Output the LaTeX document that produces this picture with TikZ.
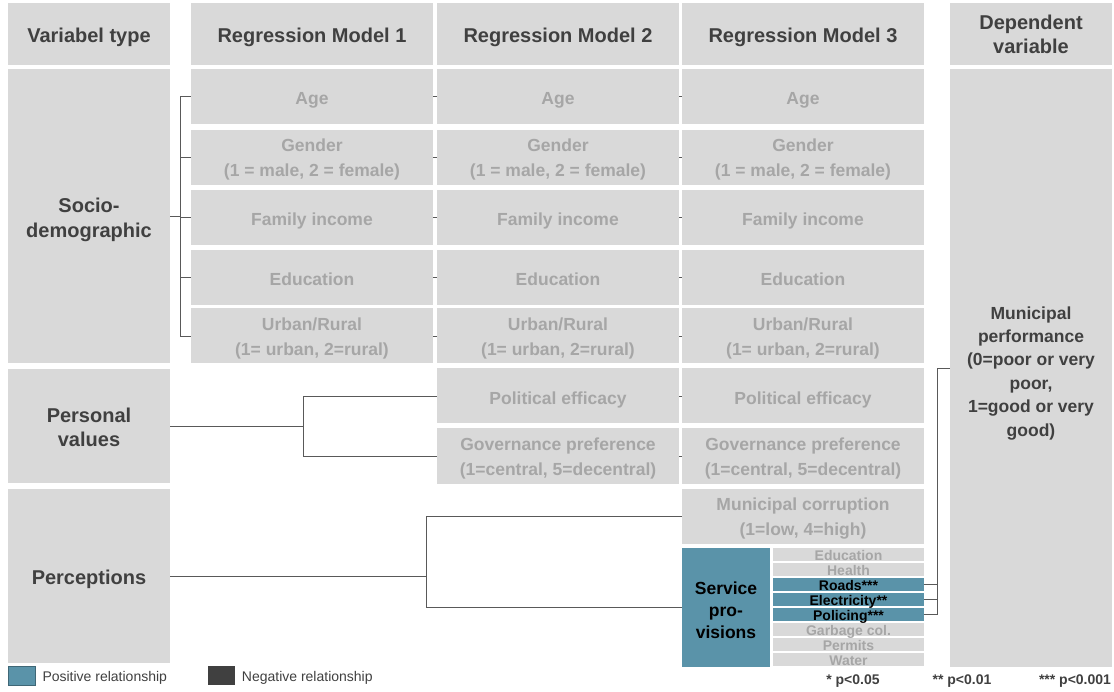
\documentclass[tikz,border=0pt]{standalone}
\usepackage{fontspec}
\setmainfont{Liberation Sans}
\usetikzlibrary{positioning}
\definecolor{boxgray}{HTML}{D9D9D9}
\definecolor{itemgray}{HTML}{A6A6A6}
\definecolor{headgray}{HTML}{404040}
\definecolor{linegray}{HTML}{595959}
\definecolor{servteal}{HTML}{5A93A9}
\begin{document}
\begin{tikzpicture}[x=1pt, y=-1pt,
    box/.style={fill=boxgray, inner sep=0pt, align=center, text depth=0pt},
    head/.style={box, minimum height=62pt, text height=16.4pt, text=headgray, font=\fontsize{20}{24}\selectfont\bfseries},
    vtype/.style={box, minimum width=162pt, text=headgray, font=\fontsize{20}{24.5}\selectfont\bfseries},
    cell/.style={box, minimum width=242pt, minimum height=55pt, text height=16.5pt, text=itemgray, font=\fontsize{17.5}{25}\selectfont\bfseries},
    twoline/.style={text height=39pt},
    sub/.style={box, minimum width=151pt, minimum height=13pt, text height=12.5pt, text depth=0.5pt, text=itemgray, font=\fontsize{14}{14}\selectfont\bfseries},
    hit/.style={fill=servteal, text=black},
    conn/.style={draw=linegray, line width=0.9pt},
    legbox/.style={minimum width=27pt, minimum height=19pt, inner sep=0pt},
    legtxt/.style={inner sep=0pt, text=headgray, font=\fontsize{14}{14}\selectfont},
    pval/.style={inner sep=0pt, text=headgray, font=\fontsize{14}{14}\selectfont\bfseries}]
    \useasboundingbox (0,0) rectangle (1114,692);
    \node[head, minimum width=162pt] (vtypehead) at (89,34) {Variabel type};
    \node[head, minimum width=242pt] (m1) at (312,34) {Regression Model 1};
    \node[head, minimum width=242pt] (m2) at (558,34) {Regression Model 2};
    \node[head, minimum width=242pt] (m3) at (803,34) {Regression Model 3};
    \node[head, minimum width=162pt, text height=39pt] (dephead) at (1031,34) {Dependent\\variable};
    \node[vtype, minimum height=294pt, text height=43pt] (socio) at (89,216) {Socio-\\demographic};
    \node[vtype, minimum height=114pt, text height=41pt] (personal) at (89,426) {Personal\\values};
    \node[vtype, minimum height=174pt, text height=16.4pt] (percep) at (89,576) {Perceptions};
    \foreach \m/\x in {1/312, 2/558, 3/803} {
        \node[cell] (age\m) at (\x,96.5) {Age};
        \node[cell, twoline] (gender\m) at (\x,157.5) {Gender\\(1 = male, 2 = female)};
        \node[cell] (income\m) at (\x,217.5) {Family income};
        \node[cell] (educ\m) at (\x,277.5) {Education};
        \node[cell, twoline] (urban\m) at (\x,336) {Urban/Rural\\(1= urban, 2=rural)};
    }
    \foreach \m/\x in {2/558, 3/803} {
        \node[cell] (polit\m) at (\x,396) {Political efficacy};
        \node[cell, twoline] (gov\m) at (\x,456) {Governance preference\\(1=central, 5=decentral)};
    }
    \node[cell, twoline] (corrupt3) at (803,516) {Municipal corruption\\(1=low, 4=high)};
    \node[box, hit, minimum width=88pt, minimum height=119pt, text height=61pt, font=\fontsize{17.5}{22}\selectfont\bfseries] (service) at (726,607.5) {Service\\pro-\\visions};
    \node[sub] (sEdu) at (848.5,554.5) {Education};
    \node[sub] (sHealth) at (848.5,569.5) {Health};
    \node[sub, hit] (sRoads) at (848.5,584.5) {Roads***};
    \node[sub, hit] (sElec) at (848.5,599.5) {Electricity**};
    \node[sub, hit] (sPolice) at (848.5,614.5) {Policing***};
    \node[sub] (sGarbage) at (848.5,629.5) {Garbage col.};
    \node[sub] (sPermits) at (848.5,644.5) {Permits};
    \node[sub] (sWater) at (848.5,659.5) {Water};
    \node[box, minimum width=162pt, minimum height=598pt, text height=136pt, text=headgray, font=\fontsize{17.5}{23.4}\selectfont\bfseries] (dep) at (1031,368) {Municipal\\performance\\(0=poor or very\\poor,\\1=good or very\\good)};
    \coordinate (sb) at (180,216);
    \foreach \r in {age, gender, income, educ, urban} {
        \draw[conn] (\r1.west) -| (sb);
        \draw[conn] (\r1.east) -- (\r2.west);
        \draw[conn] (\r2.east) -- (\r3.west);
    }
    \draw[conn] (socio.east) -- (sb);
    \coordinate (pb) at (303,426);
    \draw[conn] (polit2.west) -| (pb);
    \draw[conn] (gov2.west) -| (pb);
    \draw[conn] (personal.east) -- (pb);
    \draw[conn] (polit2.east) -- (polit3.west);
    \draw[conn] (gov2.east) -- (gov3.west);
    \coordinate (qb) at (426,576);
    \draw[conn] (corrupt3.west) -| (qb);
    \draw[conn] (service.west) -| (qb);
    \draw[conn] (percep.east) -- (qb);
    \coordinate (db) at (937,368);
    \draw[conn] (sRoads.east) -| (db) -- (db -| dep.west);
    \draw[conn] (sElec.east) -| (db);
    \draw[conn] (sPolice.east) -| (db);
    \node[legbox, fill=servteal, draw=servteal!70!black, line width=0.6pt] (legPos) at (21.5,675.5) {};
    \node[legtxt, right=7pt of legPos, yshift=-2pt] (legPosTxt) {Positive relationship};
    \node[legbox, fill=headgray] (legNeg) at (221,675.5) {};
    \node[legtxt, right=7pt of legNeg, yshift=-2pt] (legNegTxt) {Negative relationship};
    \node[pval] (p1) at (853,681) {* p<0.05};
    \node[pval] (p2) at (962,681) {** p<0.01};
    \node[pval] (p3) at (1075,681) {*** p<0.001};
\end{tikzpicture}
\end{document}
